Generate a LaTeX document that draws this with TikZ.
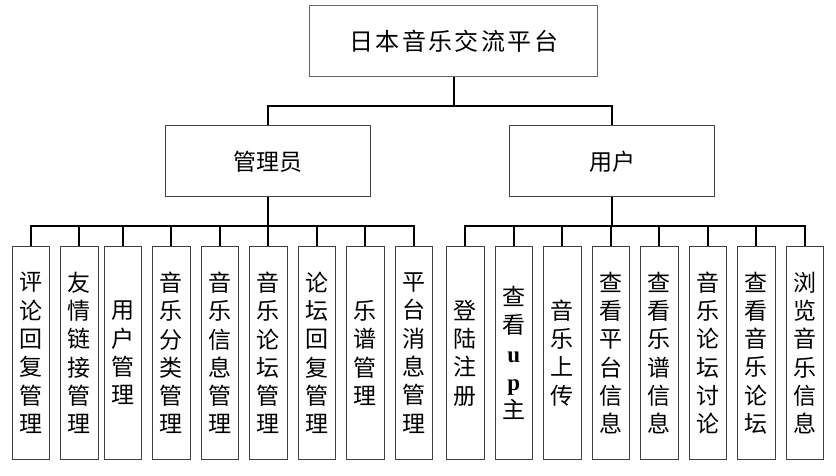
\documentclass[tikz,border=0pt]{standalone}
\usepackage{fontspec}
\usepackage{tikz}
\usetikzlibrary{positioning}
\newfontfamily\cjk{Noto Sans CJK SC}
\newfontfamily\cjkwide[LetterSpace=10]{Noto Sans CJK SC}
\newfontfamily\lat{Liberation Serif}

\begin{document}
\begin{tikzpicture}[x=1pt,y=1pt,node distance=10pt,
box/.style={draw=black!75,line width=1pt,fill=white,align=center,inner sep=0pt,
  font=\cjk\fontsize{23}{28}\selectfont},
role/.style={box,minimum width=205pt,minimum height=71pt},
leaf/.style={box,minimum width=37.5pt,minimum height=212.5pt,
  font=\cjk\fontsize{23}{28.3}\selectfont},
link/.style={line width=2pt}]
\useasboundingbox (0,0) rectangle (836,-476);
\node[box,minimum width=287.7pt,minimum height=71pt,font=\cjkwide\fontsize{24}{28}\selectfont,draw=black!60] (top) at (453.8,-41.5) {日本音乐交流平台};
\node[role] (admin) at (267.5,-161.5) {管理员};
\node[role] (user) at (612,-161.5) {用户};
% admin side
\node[leaf,anchor=west] (a1) at (11.5,-353) {评\\论\\回\\复\\管\\理};
\node[leaf,right=of a1] (a2) {友\\情\\链\\接\\管\\理};
\node[leaf,right=5pt of a2] (a3) {用\\户\\管\\理};
\node[leaf,right=of a3] (a4) {音\\乐\\分\\类\\管\\理};
\node[leaf,right=of a4] (a5) {音\\乐\\信\\息\\管\\理};
\node[leaf,right=of a5] (a6) {音\\乐\\论\\坛\\管\\理};
\node[leaf,right=of a6] (a7) {论\\坛\\回\\复\\管\\理};
\node[leaf,right=of a7] (a8) {乐\\谱\\管\\理};
\node[leaf,right=of a8] (a9) {平\\台\\消\\息\\管\\理};
% user side
\node[leaf,anchor=west] (u1) at (446,-353) {登\\陆\\注\\册};
\node[leaf,right=of u1] (u2) {查\\看\\{\lat\bfseries u}\\{\lat\bfseries p}\\主};
\node[leaf,right=of u2] (u3) {音\\乐\\上\\传};
\node[leaf,right=of u3] (u4) {查\\看\\平\\台\\信\\息};
\node[leaf,right=of u4] (u5) {查\\看\\乐\\谱\\信\\息};
\node[leaf,right=of u5] (u6) {音\\乐\\论\\坛\\讨\\论};
\node[leaf,right=of u6] (u7) {查\\看\\音\\乐\\论\\坛};
\node[leaf,right=of u7] (u8) {浏\\览\\音\\乐\\信\\息};
% connectors
\draw[link] (top.south) -- ++(0,-29) coordinate (tjoin);
\draw[link] (admin.north) |- (tjoin) -| (user.north);
\draw[link] (admin.south) -- ++(0,-28) coordinate (ajoin);
\draw[link] (a1.north) |- (ajoin) -| (a9.north);
\draw[link] (a2.north) -- (a2.north |- ajoin);
\draw[link] (a3.north) -- (a3.north |- ajoin);
\draw[link] (a4.north) -- (a4.north |- ajoin);
\draw[link] (a5.north) -- (a5.north |- ajoin);
\draw[link] (a6.north) -- (a6.north |- ajoin);
\draw[link] (a7.north) -- (a7.north |- ajoin);
\draw[link] (a8.north) -- (a8.north |- ajoin);
\draw[link] (user.south) -- ++(0,-28) coordinate (ujoin);
\draw[link] (u1.north) |- (ujoin) -| (u8.north);
\draw[link] (u2.north) -- (u2.north |- ujoin);
\draw[link] (u3.north) -- (u3.north |- ujoin);
\draw[link] (u4.north) -- (u4.north |- ujoin);
\draw[link] (u5.north) -- (u5.north |- ujoin);
\draw[link] (u6.north) -- (u6.north |- ujoin);
\draw[link] (u7.north) -- (u7.north |- ujoin);
\end{tikzpicture}
\end{document}
